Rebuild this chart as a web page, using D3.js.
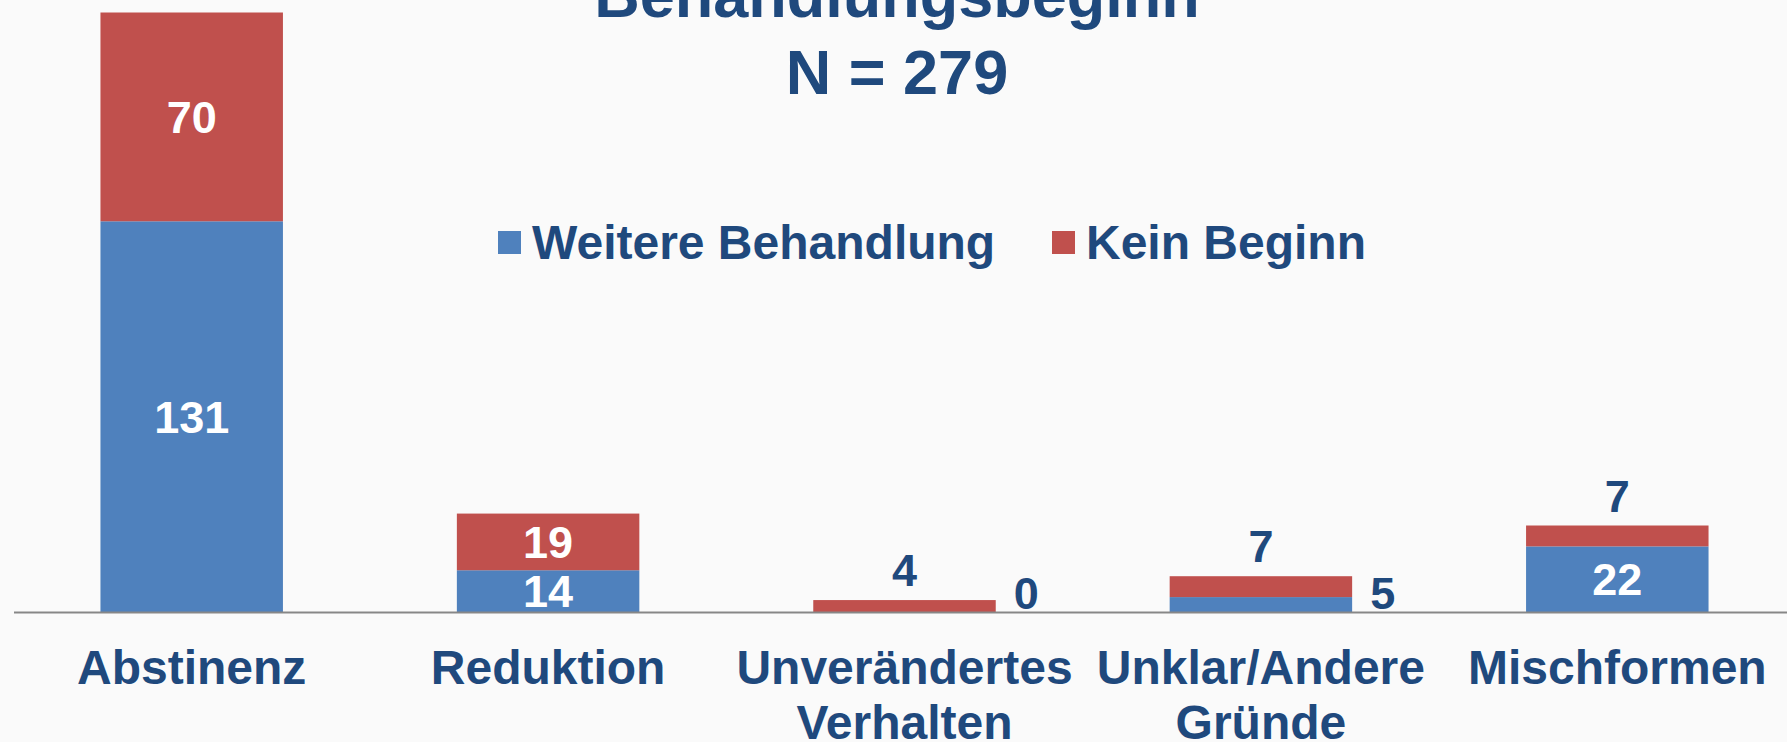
<!DOCTYPE html>
<html>
<head>
<meta charset="utf-8">
<script src="https://cdn.jsdelivr.net/npm/d3@7"></script>
<style>
  body { margin: 0; background: #fafafa; }
  svg { display: block; font-family: "Liberation Sans", Arial, sans-serif; font-weight: bold; }
</style>
</head>
<body>
<div id="chart"></div>
<script>
// data
var categories = ["Abstinenz", "Reduktion", "Unverändertes Verhalten", "Unklar/Andere Gründe", "Mischformen"];
var tickLabels = [["Abstinenz"], ["Reduktion"], ["Unverändertes", "Verhalten"], ["Unklar/Andere", "Gründe"], ["Mischformen"]];
var seriesNames = ["Weitere Behandlung", "Kein Beginn"];
var weitere = [131, 14, 0, 5, 22];
var kein = [70, 19, 4, 7, 7];
var titleLines = ["Behandlungsbeginn", "N = 279"];

var width = 1787;
var height = 742;
var colors = ["#4f81bd", "#c0504d"];
var textColor = "#1f497d";

var svg = d3.select("#chart")
  .append("svg")
  .attr("width", width)
  .attr("height", height);

svg.append("rect")
  .attr("width", width)
  .attr("height", height)
  .attr("fill", "#fafafa");

var rows = categories.map(function (c, i) {
  return { cat: c, w: weitere[i], k: kein[i] };
});

var stack = d3.stack().keys(["w", "k"]);
var layers = stack(rows);

var x = d3.scaleBand()
  .domain(categories)
  .range([13.5, 1795.5])
  .paddingInner(0.488)
  .paddingOuter(0.244);

var y = d3.scaleLinear()
  .domain([0, 201])
  .range([612, 12.5]);

// bars
var layer = svg.append("g")
  .selectAll("g")
  .data(layers)
  .enter().append("g")
  .attr("fill", function (d, i) { return colors[i]; });

layer.selectAll("rect")
  .data(function (d) { return d; })
  .enter().append("rect")
  .attr("x", function (d) { return x(d.data.cat); })
  .attr("y", function (d) { return y(d[1]); })
  .attr("width", x.bandwidth())
  .attr("height", function (d) { return y(d[0]) - y(d[1]); });

// value labels: inside if the segment is tall enough, otherwise outside
layers.forEach(function (l, li) {
  svg.append("g")
    .selectAll("text")
    .data(l)
    .enter().append("text")
    .attr("font-size", 45)
    .each(function (d) {
      var h = y(d[0]) - y(d[1]);
      var v = d[1] - d[0];
      var t = d3.select(this).text(v);
      if (h > 30) {
        t.attr("x", x(d.data.cat) + x.bandwidth() / 2)
          .attr("y", (y(d[0]) + y(d[1])) / 2)
          .attr("dy", "0.36em")
          .attr("text-anchor", "middle")
          .attr("fill", "#fff");
      } else if (li === 1) {
        t.attr("x", x(d.data.cat) + x.bandwidth() / 2)
          .attr("y", y(d[1]) - 14)
          .attr("text-anchor", "middle")
          .attr("fill", textColor);
      } else {
        t.attr("x", x(d.data.cat) + x.bandwidth() + 18)
          .attr("y", y(0) - 3)
          .attr("text-anchor", "start")
          .attr("fill", textColor);
      }
    });
});

// x axis
var xAxis = svg.append("g")
  .attr("transform", "translate(0," + y(0) + ")")
  .call(d3.axisBottom(x).tickSize(0).tickFormat(""));

xAxis.select(".domain")
  .attr("stroke", "#878787")
  .attr("stroke-width", 2);

xAxis.selectAll(".tick text").remove();
xAxis.selectAll(".tick")
  .append("text")
  .attr("fill", textColor)
  .attr("font-size", 48)
  .attr("text-anchor", "middle")
  .each(function (d, i) {
    var t = d3.select(this);
    tickLabels[i].forEach(function (line, j) {
      t.append("tspan")
        .attr("x", 0)
        .attr("y", 72 + j * 55)
        .text(line);
    });
  });

// title
svg.append("g")
  .selectAll("text")
  .data(titleLines)
  .enter().append("text")
  .attr("x", 897)
  .attr("y", function (d, i) { return 17 + i * 77; })
  .attr("text-anchor", "middle")
  .attr("font-size", 63)
  .attr("fill", textColor)
  .text(function (d) { return d; });

// legend
var legendX = [498, 1052];
var legend = svg.append("g")
  .selectAll("g")
  .data(seriesNames)
  .enter().append("g")
  .attr("transform", function (d, i) { return "translate(" + legendX[i] + ",231)"; });

legend.append("rect")
  .attr("width", 23)
  .attr("height", 23)
  .attr("fill", function (d, i) { return colors[i]; });

legend.append("text")
  .attr("x", 34)
  .attr("y", 28)
  .attr("font-size", 48)
  .attr("fill", textColor)
  .text(function (d) { return d; });
</script>
</body>
</html>
